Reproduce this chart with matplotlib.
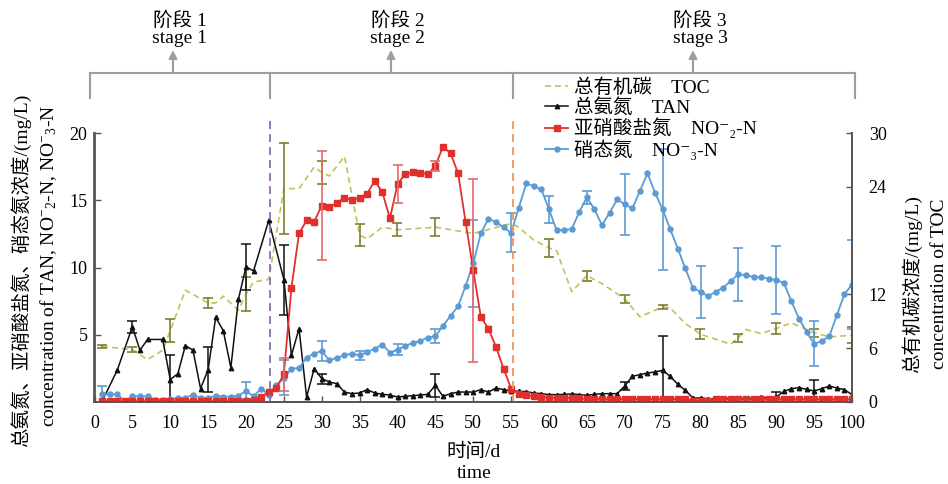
import numpy as np
import matplotlib
matplotlib.use('Agg')
import matplotlib.pyplot as plt

plt.rcParams['font.family'] = ['Liberation Serif', 'Noto Sans CJK SC', 'DejaVu Serif']
plt.rcParams['mathtext.fontset'] = 'custom'
plt.rcParams['mathtext.rm'] = 'Liberation Serif'
plt.rcParams['mathtext.it'] = 'Liberation Serif:italic'

# daily sampling for nitrite / nitrate
days = np.arange(1, 101)

no3 = [0.57, 0.57, 0.57, 0.05, 0.42, 0.42, 0.42, 0.17, 0.17, 0.22,
       0.3, 0.3, 0.55, 0.3, 0.3, 0.47, 0.4, 0.4, 0.47, 0.82,
       0.42, 0.99, 0.55, 1.24, 1.79, 2.48, 2.53, 3.3, 3.6, 3.8,
       3.1, 3.3, 3.47, 3.6, 3.47, 3.72, 3.97, 4.27, 3.67, 3.9,
       4.17, 4.39, 4.54, 4.79, 4.9, 5.66, 6.4, 7.12, 8.64, 10.3,
       12.53, 13.62, 13.4, 12.98, 12.58, 14.42, 16.25, 16.05, 15.8, 14.32,
       12.78, 12.78, 12.85, 14.14, 15.21, 14.32, 13.15, 14.07, 15.06, 14.71,
       14.39, 15.68, 17.0, 15.56, 14.32, 12.85, 11.41, 9.93, 8.49, 8.19,
       7.87, 8.19, 8.51, 9.0, 9.48, 9.43, 9.3, 9.26, 9.18, 9.06,
       8.86, 7.49, 6.2, 5.21, 4.34, 4.52, 4.89, 6.45, 8.01, 8.73]

no2 = [0.05] * 19 + [0.1, 0.17, 0.37, 0.75, 1.04, 2.06, 8.5, 12.53, 13.5, 13.4, 14.6,
       14.5, 14.8, 15.2, 15.0, 15.2, 15.5, 16.45, 15.6, 13.65, 16.2,
       16.95, 17.07, 17.05, 16.95, 17.55, 18.98, 18.5, 17.0, 13.35, 9.8,
       6.33, 5.46, 4.1, 2.48, 1.0, 0.62, 0.5, 0.42, 0.37, 0.32,
       0.3, 0.3, 0.3, 0.28] + [0.22] * 14 + [0.1, 0.1, 0.1] + [0.2] * 19

tan_days = [1, 3, 5, 6, 7, 9, 10, 11, 12, 13, 14, 15, 16, 17, 18, 19, 20, 21, 23, 25,
            26, 27, 28, 29, 30, 31, 32, 33, 34, 35, 36, 37, 38, 39, 40, 41, 42, 43, 44, 45,
            46, 47, 48, 49, 50, 51, 52, 53, 54, 55, 56, 57, 58, 59, 60, 61, 62, 63, 64, 65,
            66, 67, 68, 69, 70, 71, 72, 73, 74, 75, 76, 77, 78, 79, 80, 81, 82, 83, 84, 85,
            86, 87, 88, 89, 90, 91, 92, 93, 94, 95, 96, 97, 98, 99, 100]
tan = [0.05, 2.36, 5.6, 3.85, 4.65, 4.65, 1.67, 2.1, 4.2, 3.85, 1.0, 2.4, 6.3, 5.3, 2.55, 7.65, 10.05, 9.75, 13.5, 9.1,
       3.47, 5.46, 0.37, 2.48, 1.74, 1.49, 1.36, 0.74, 0.62, 0.67, 0.92, 0.67, 0.57, 0.52, 0.37, 0.42, 0.47, 0.52, 0.57, 1.24,
       0.42, 0.62, 0.74, 0.74, 0.74, 0.92, 0.74, 1.04, 0.92, 0.82, 0.79, 0.77, 0.67, 0.62, 0.55, 0.55, 0.57, 0.6, 0.55, 0.5,
       0.57, 0.62, 0.62, 0.62, 1.19, 1.91, 2.03, 2.16, 2.23, 2.36, 1.91, 1.32, 0.87, 0.3, 0.3, 0.25, 0.22, 0.25, 0.3, 0.3,
       0.25, 0.3, 0.35, 0.3, 0.37, 0.79, 0.99, 1.07, 0.94, 0.82, 0.99, 1.19, 1.04, 0.92, 0.55]

toc_days = [1, 5, 7, 9, 10, 12, 15, 16, 17, 19, 20, 21, 23, 25, 27, 29, 30, 31, 33, 35,
            36, 38, 40, 45, 50, 55, 56, 58, 60, 61, 63, 65, 67, 70, 72, 75, 76, 78, 80, 84,
            85, 86, 88, 90, 92, 95, 97, 100]
toc = [6.2, 5.84, 4.73, 5.77, 7.96, 12.47, 11.05, 11.05, 11.8, 10.23, 12.0, 13.4, 13.66, 23.8, 23.8, 26.2, 25.6, 25.2, 27.4, 18.6,
       18.2, 19.5, 19.2, 19.5, 18.8, 19.9, 19.5, 18.05, 17.2, 16.9, 12.3, 14.1, 13.2, 11.5, 9.5, 10.6, 10.5, 8.75, 7.55, 6.44,
       7.18, 8.08, 7.63, 8.19, 8.82, 7.74, 7.26, 7.44]

# standard deviations on selected days
no3_err_days = [1, 20, 25, 30, 35, 40, 45, 50, 55, 60, 65, 70, 75, 80, 85, 90, 95, 100]
no3_err = [0.6, 0.63, 1.3, 0.74, 0.32, 0.43, 0.51, 3.25, 1.46, 1.03, 0.5, 2.27, 4.47, 1.92, 2.0, 2.54, 1.7, 3.3]
no2_err_days = [25, 30, 40, 45, 50]
no2_err = [1.23, 4.04, 1.4, 0.35, 6.79]
tan_err_days = [5, 10, 15, 20, 25, 30, 45, 70, 75, 90, 95]
tan_err = [0.45, 1.8, 1.67, 1.7, 2.6, 0.37, 0.87, 0.3, 2.57, 0.36, 0.84]
toc_err_days = [1, 5, 10, 15, 20, 25, 30, 35, 40, 45, 60, 65, 70, 75, 80, 85, 90, 95, 100]
toc_err = [0.2, 0.3, 1.25, 0.52, 1.9, 5.05, 1.3, 1.2, 0.74, 1.0, 1.0, 0.55, 0.45, 0.2, 0.55, 0.45, 0.63, 0.45, 0.9]

stage_bounds = [23.2, 55.2]
stage_names = ['阶段 1\nstage 1', '阶段 2\nstage 2', '阶段 3\nstage 3']
legend_labels = ['总有机碳    TOC', '总氨氮    TAN',
                 '亚硝酸盐氮    NO\u207b\u2082-N', '硝态氮    NO\u207b\u2083-N']

c_toc, c_toc_err = '#c2c25a', '#7f7f2e'
c_tan = '#111111'
c_no2, c_no2_err = '#e0302c', '#e86a68'
c_no3 = '#5b9bd5'
c_grey = '#9d9da6'
c_spine = '#555555'


def centers(xs, ys, sel):
    lut = dict(zip(xs, ys))
    return [lut[d] for d in sel]


fig = plt.figure(figsize=(9.48, 4.84), dpi=100)
W, H = 948, 484
ax = fig.add_axes([94.5 / W, 1 - 402 / H, (852 - 94.5) / W, (402 - 133) / H])
ax2 = ax.twinx()
ax.set_zorder(ax2.get_zorder() + 1)
ax.patch.set_visible(False)

# TOC on the right axis
l_toc, = ax2.plot(toc_days, toc, color=c_toc, lw=1.2, dashes=(3.6, 2.4))
ax2.errorbar(toc_err_days, centers(toc_days, toc, toc_err_days), yerr=toc_err,
             fmt='none', ecolor=c_toc_err, elinewidth=1.2, capsize=3.5, capthick=1.2)

# nitrogen species on the left axis
l_tan, = ax.plot(tan_days, tan, color=c_tan, lw=1.1, marker='^', ms=3.2)
ax.errorbar(tan_err_days, centers(tan_days, tan, tan_err_days), yerr=tan_err,
            fmt='none', ecolor=c_tan, elinewidth=1.1, capsize=3.5, capthick=1.1)

l_no3, = ax.plot(days, no3, color=c_no3, lw=1.3, marker='o', ms=3.6)
ax.errorbar(no3_err_days, centers(list(days), no3, no3_err_days), yerr=no3_err,
            fmt='none', ecolor=c_no3, elinewidth=1.2, capsize=3.5, capthick=1.2)

l_no2, = ax.plot(days, no2, color=c_no2, lw=1.3, marker='s', ms=4.6)
ax.errorbar(no2_err_days, centers(list(days), no2, no2_err_days), yerr=no2_err,
            fmt='none', ecolor=c_no2_err, elinewidth=1.2, capsize=3.5, capthick=1.2)

ax.axvline(stage_bounds[0], ymax=1.05, clip_on=False, color='#8e6cb4', lw=1.3, dashes=(4.4, 2.8))
ax.axvline(stage_bounds[1], ymax=1.05, clip_on=False, color='#f0955a', lw=1.3, dashes=(4.4, 2.8))

ax.set_xlim(0, 100)
ax.set_ylim(0, 20)
ax2.set_ylim(0, 30)
ax.set_xticks(np.arange(0, 101, 5))
ax.set_yticks([5, 10, 15, 20])
ax2.set_yticks([0, 6, 12, 24, 30])

for a in (ax, ax2):
    a.spines['top'].set_visible(False)
    for s in a.spines.values():
        s.set_color(c_spine)
        s.set_linewidth(1.3)
ax.tick_params(axis='x', direction='in', length=4, width=1, color=c_spine, labelsize=13, pad=9)
ax.tick_params(axis='y', direction='in', length=4, width=1, color=c_spine, labelsize=13, pad=5)
ax2.tick_params(axis='y', direction='in', length=4, width=1, color=c_spine, labelsize=13, pad=12)

# axis titles
fig.text(474 / W, 1 - 452 / H, '时间/d', ha='center', va='center', fontsize=14)
fig.text(474 / W, 1 - 473 / H, 'time', ha='center', va='center', fontsize=14)
fig.text(21 / W, 1 - 270 / H, '总氨氮、亚硝酸盐氮、硝态氮浓度/(mg/L)', rotation=90,
         ha='center', va='center', fontsize=14)
fig.text(49 / W, 1 - 266 / H, 'concentration of TAN, NO$^{-}$$_{2}$-N, NO$^{-}$$_{3}$-N', rotation=90,
         ha='center', va='center', fontsize=14)
fig.text(912 / W, 1 - 284 / H, '总有机碳浓度/(mg/L)', rotation=90,
         ha='center', va='center', fontsize=14)
fig.text(939 / W, 1 - 284 / H, 'concentration of TOC', rotation=90,
         ha='center', va='center', fontsize=14)

# stage bracket above the plot, drawn in pixel coordinates
ov = fig.add_axes([0, 0, 1, 1])
ov.set_xlim(0, W)
ov.set_ylim(H, 0)
ov.axis('off')
bx = [90, 270, 513, 855]
ov.plot([bx[0], bx[-1]], [73, 73], color=c_grey, lw=1.5)
for x in bx:
    ov.plot([x, x], [73, 98], color=c_grey, lw=1.5)
for x, name in zip([173, 391, 693], stage_names):
    ov.annotate('', xy=(x, 50), xytext=(x, 73),
                arrowprops=dict(arrowstyle='-|>', color=c_grey, lw=1.5, mutation_scale=12,
                                shrinkA=0, shrinkB=0))
    ov.text(x + 7, 29, name, ha='center', va='center', fontsize=14, linespacing=1.0)

fig.legend([l_toc, l_tan, l_no2, l_no3], legend_labels,
           loc='upper left', bbox_to_anchor=(545 / W, 1 - 78 / H), frameon=False,
           fontsize=14, handlelength=1.2, handletextpad=0.3, labelspacing=0.06,
           borderpad=0, borderaxespad=0)

fig.savefig('out.png', dpi=100)
